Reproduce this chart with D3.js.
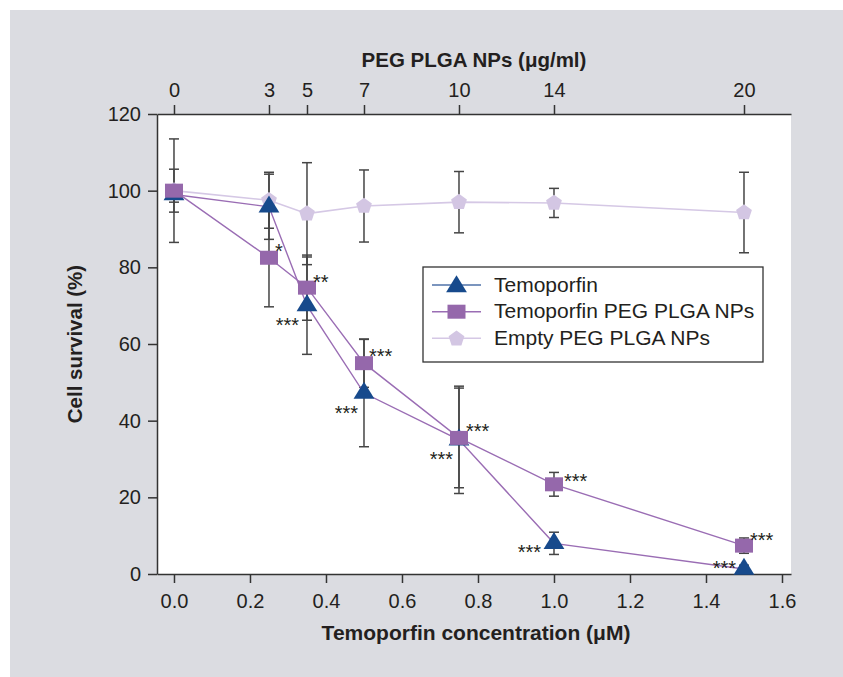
<!DOCTYPE html>
<html>
<head>
<meta charset="utf-8">
<script src="https://cdn.jsdelivr.net/npm/d3@7"></script>
<style>
  body { margin: 0; background: #ffffff; }
  svg { display: block; }
  text { font-family: "Liberation Sans", Arial, Helvetica, sans-serif; fill: #231f20; }
</style>
</head>
<body>
<svg id="chart" width="843" height="677"></svg>
<script>
// ---- data ----
const concentrations = [0, 0.25, 0.35, 0.5, 0.75, 1.0, 1.5];          // µM temoporfin
const npDoseLabels   = ["0", "3", "5", "7", "10", "14", "20"];         // µg/ml nanoparticles
const xTickValues    = [0, 0.2, 0.4, 0.6, 0.8, 1.0, 1.2, 1.4, 1.6];
const yTickValues    = [0, 20, 40, 60, 80, 100, 120];

const seriesNames = ["Temoporfin", "Temoporfin PEG PLGA NPs", "Empty PEG PLGA NPs"];

const temoporfinMean = [99, 95.8, 70, 47.2, 35, 8, 1.3];
const temoporfinSD   = [2, 8.5, 12.7, 14, 14, 2.9, 1];
const temoporfinSig  = ["", "", "***", "***", "***", "***", "***"];

const loadedNPMean = [100, 82.5, 74.7, 55, 35.5, 23.4, 7.4];
const loadedNPSD   = [5.6, 12.8, 8.5, 6.3, 13, 3.1, 2];
const loadedNPSig  = ["", "*", "**", "***", "***", "***", "***"];

const emptyNPMean = [100, 97.5, 94, 96, 97, 96.8, 94.3];
const emptyNPSD   = [13.5, 7.3, 13.3, 9.4, 8, 3.8, 10.5];

// ---- layout & style ----
const plot = { left: 157, right: 791, top: 114, bottom: 574 };
const colors = {
  panel: "#dbdce1",
  axis: "#333333",
  errBar: "#454545",
  triangle: "#174a8c",
  triangleKey: "#4f72a8",
  square: "#9568ab",
  purpleLine: "#9a6db4",
  pentagon: "#d3c6e3",
  lavenderLine: "#d5c8e5"
};
// label nudges for the significance stars (x, y of star centre relative to the marker)
const starNudgeLoaded = [[0,0],[6,-11],[6,-10],[5,-12],[7,-11],[10,-8],[6,-10]];
const starNudgeFree   = [[0,0],[0,0],[-8,14.5],[-6,15.5],[-6,15],[-13,4],[-8,-6]];

const svg = d3.select("#chart");

svg.append("rect").attr("x", 10).attr("y", 10).attr("width", 833).attr("height", 667)
  .attr("fill", colors.panel);
svg.append("rect").attr("x", plot.left).attr("y", plot.top)
  .attr("width", plot.right - plot.left).attr("height", plot.bottom - plot.top)
  .attr("fill", "#ffffff");

const x = d3.scaleLinear().domain([-0.0447, 1.6237]).range([plot.left, plot.right]);
const y = d3.scaleLinear().domain([0, 120]).range([plot.bottom, plot.top]);

function styleAxis(g) {
  g.selectAll("path.domain").attr("stroke", colors.axis).attr("stroke-width", 1.5);
  g.selectAll(".tick line").attr("stroke", colors.axis).attr("stroke-width", 1.5);
  g.selectAll(".tick text").attr("font-size", 20).attr("fill", "#231f20")
    .attr("font-family", "'Liberation Sans', Arial, sans-serif");
}

svg.append("g").attr("transform", `translate(0,${plot.bottom})`)
  .call(d3.axisBottom(x).tickValues(xTickValues).tickFormat(d3.format(".1f"))
    .tickSizeInner(9).tickSizeOuter(0).tickPadding(11))
  .call(styleAxis);

svg.append("g").attr("transform", `translate(0,${plot.top})`)
  .call(d3.axisTop(x).tickValues(concentrations).tickFormat((d, i) => npDoseLabels[i])
    .tickSizeInner(9).tickSizeOuter(0).tickPadding(8))
  .call(styleAxis);

svg.append("g").attr("transform", `translate(${plot.left},0)`)
  .call(d3.axisLeft(y).tickValues(yTickValues).tickFormat(d3.format("d"))
    .tickSizeInner(9).tickSizeOuter(0).tickPadding(7))
  .call(styleAxis);

// axis titles
svg.append("text").attr("x", 476).attr("y", 640).attr("text-anchor", "middle")
  .attr("font-size", 21).attr("font-weight", "bold").text("Temoporfin concentration (μM)");
svg.append("text").attr("x", 474).attr("y", 67).attr("text-anchor", "middle")
  .attr("font-size", 20.5).attr("font-weight", "bold").text("PEG PLGA NPs (μg/ml)");
svg.append("text").attr("transform", "translate(82,344) rotate(-90)").attr("text-anchor", "middle")
  .attr("font-size", 20.5).attr("font-weight", "bold").text("Cell survival (%)");

// ---- marker shapes ----
const triPath = "M0,-11.3L10.4,5.7L-10.4,5.7Z";
const pentR = 8.3;
const pentPath = d3.range(5).map(k => {
  const a = -Math.PI / 2 + k * 2 * Math.PI / 5;
  return [pentR * Math.cos(a), pentR * Math.sin(a)];
});
const pentD = "M" + pentPath.map(p => p.join(",")).join("L") + "Z";

const seriesData = [
  { mean: emptyNPMean, sd: emptyNPSD, line: colors.lavenderLine, lw: 1.6 },
  { mean: temoporfinMean, sd: temoporfinSD, line: colors.purpleLine, lw: 1.4 },
  { mean: loadedNPMean, sd: loadedNPSD, line: colors.purpleLine, lw: 1.4 }
];

// error bars
const capHalf = 5;
const errG = svg.append("g");
seriesData.forEach(s => {
  const pts = concentrations.map((c, i) => ({ c, lo: s.mean[i] - s.sd[i], hi: s.mean[i] + s.sd[i] }));
  const g = errG.selectAll(null).data(pts).join("g")
    .attr("stroke", colors.errBar).attr("stroke-width", 1.5);
  g.append("line").attr("x1", d => x(d.c)).attr("x2", d => x(d.c))
    .attr("y1", d => y(d.lo)).attr("y2", d => y(d.hi));
  g.append("line").attr("x1", d => x(d.c) - capHalf).attr("x2", d => x(d.c) + capHalf)
    .attr("y1", d => y(d.hi)).attr("y2", d => y(d.hi));
  g.append("line").attr("x1", d => x(d.c) - capHalf).attr("x2", d => x(d.c) + capHalf)
    .attr("y1", d => y(d.lo)).attr("y2", d => y(d.lo));
});

// connecting lines
const lineGen = d3.line().x((d, i) => x(concentrations[i])).y(d => y(d));
seriesData.forEach(s => {
  svg.append("path").datum(s.mean).attr("d", lineGen)
    .attr("fill", "none").attr("stroke", s.line).attr("stroke-width", s.lw);
});

// markers: pentagons, then triangles, then squares on top
svg.append("g").selectAll("path").data(emptyNPMean).join("path")
  .attr("d", pentD).attr("fill", colors.pentagon)
  .attr("transform", (d, i) => `translate(${x(concentrations[i])},${y(d)})`);
svg.append("g").selectAll("path").data(temoporfinMean).join("path")
  .attr("d", triPath).attr("fill", colors.triangle)
  .attr("transform", (d, i) => `translate(${x(concentrations[i])},${y(d)})`);
svg.append("g").selectAll("rect").data(loadedNPMean).join("rect")
  .attr("x", (d, i) => x(concentrations[i]) - 9).attr("y", d => y(d) - 7)
  .attr("width", 18).attr("height", 14).attr("fill", colors.square);

// significance stars
const starG = svg.append("g").attr("font-size", 20);
starG.selectAll(null).data(loadedNPSig.map((s, i) => ({ s, i }))).join("text")
  .attr("x", d => x(concentrations[d.i]) + starNudgeLoaded[d.i][0])
  .attr("y", d => y(loadedNPMean[d.i]) + starNudgeLoaded[d.i][1] + 11.5)
  .attr("text-anchor", "start").text(d => d.s);
starG.selectAll(null).data(temoporfinSig.map((s, i) => ({ s, i }))).join("text")
  .attr("x", d => x(concentrations[d.i]) + starNudgeFree[d.i][0])
  .attr("y", d => y(temoporfinMean[d.i]) + starNudgeFree[d.i][1] + 11.5)
  .attr("text-anchor", "end").text(d => d.s);

// legend
const legend = svg.append("g");
legend.append("rect").attr("x", 423).attr("y", 267).attr("width", 340).attr("height", 95)
  .attr("fill", "#ffffff").attr("stroke", colors.axis).attr("stroke-width", 1.3);
const keyRows = [
  { name: seriesNames[0], line: colors.triangleKey, shape: "tri" },
  { name: seriesNames[1], line: colors.purpleLine, shape: "sq" },
  { name: seriesNames[2], line: colors.lavenderLine, shape: "pent" }
];
const rowY = [285, 311.7, 338.3];
keyRows.forEach((r, k) => {
  const g = legend.append("g").attr("transform", `translate(0,${rowY[k]})`);
  g.append("line").attr("x1", 432).attr("x2", 481).attr("y1", 0).attr("y2", 0)
    .attr("stroke", r.line).attr("stroke-width", 1.6);
  if (r.shape === "tri") {
    g.append("path").attr("d", triPath).attr("fill", colors.triangle)
      .attr("transform", "translate(456.5,1.5)");
  } else if (r.shape === "sq") {
    g.append("rect").attr("x", 447.5).attr("y", -7).attr("width", 18).attr("height", 14)
      .attr("fill", colors.square);
  } else {
    g.append("path").attr("d", pentD).attr("fill", colors.pentagon)
      .attr("transform", "translate(456.5,0.5)");
  }
  g.append("text").attr("x", 494).attr("y", 6.5).attr("font-size", 21).text(r.name);
});
</script>
</body>
</html>
